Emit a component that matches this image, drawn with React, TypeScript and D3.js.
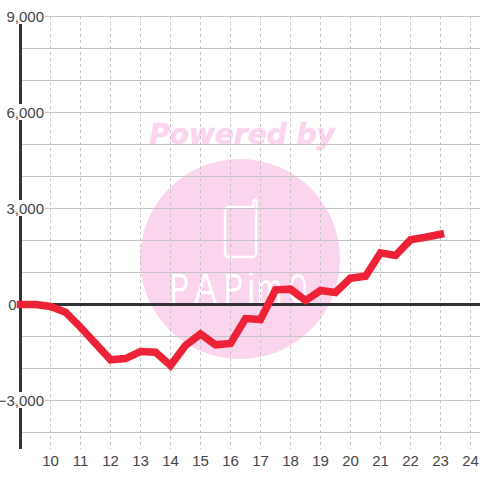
import React from "react";
import { scaleLinear, line, curveLinear, format } from "d3";

// hours along the bottom
const hourTicks = [10, 11, 12, 13, 14, 15, 16, 17, 18, 19, 20, 21, 22, 23, 24];
const valueLabels = [9000, 6000, 3000, 0, -3000];
const gridValues = [9000, 8000, 7000, 6000, 5000, 4000, 3000, 2000, 1000, 0, -1000, -2000, -3000, -4000];

// half hour samples
const times = [
  9, 9.5, 10, 10.5, 11, 11.5, 12, 12.5, 13, 13.5, 14, 14.5, 15, 15.5, 16, 16.5,
  17, 17.5, 18, 18.5, 19, 19.5, 20, 20.5, 21, 21.5, 22, 22.5, 23,
];
const values = [
  0, 0, -60, -240, -710, -1220, -1730, -1690, -1470, -1490, -1906, -1280, -920, -1260, -1220, -440,
  -470, 460, 480, 125, 437, 375, 823, 885, 1615, 1530, 2020, 2100, 2195,
];

// logo letters: [char, left edge, horizontal squeeze]
const logoLetters: [string, number, number][] = [
  ["P", 170, 0.68],
  ["A", 194, 0.82],
  ["P", 224, 0.68],
  ["i", 247, 0.9],
  ["m", 257, 0.72],
  ["O", 289, 0.55],
];

const x = scaleLinear().domain([9, 24]).range([20.5, 470.5]);
const y = scaleLinear().domain([9000, -3000]).range([16.5, 400.5]);
const fmt = format(",");

const lineGen = line<number>()
  .x((_, i) => x(times[i]))
  .y((d) => y(d))
  .curve(curveLinear);

const App = () => {
  return (
    <svg
      width={480}
      height={480}
      style={{ position: "absolute", left: 0, top: 0, background: "#fff" }}
      fontFamily="'Liberation Sans', Arial, sans-serif"
    >
      {/* watermark */}
      <g>
        <text
          x={242}
          y={144}
          textAnchor="middle"
          fontFamily="'DejaVu Sans', sans-serif"
          fontWeight="bold"
          fontStyle="italic"
          fontSize={28}
          fill="#fbd5ee"
          stroke="#fbd5ee"
          strokeWidth={0.6}
        >
          Powered by
        </text>
        <circle cx={240} cy={259} r={100} fill="#fbd5ee" />
        <rect x={225} y={207} width={31} height={50} rx={4} fill="none" stroke="#fff" strokeWidth={2.5} />
        <line x1={255} y1={207} x2={255} y2={201} stroke="#fff" strokeWidth={5} strokeLinecap="round" />
        <line x1={255} y1={215} x2={255} y2={201} stroke="#fbd5ee" strokeWidth={1} strokeLinecap="round" />
        {logoLetters.map(([c, lx, sx], i) => (
          <text key={i} transform={`translate(${lx},303) scale(${sx},1)`} fontSize={42} fill="#fff">
            {c}
          </text>
        ))}
      </g>

      {/* grid */}
      {hourTicks.map((h) => (
        <line key={h} x1={x(h)} x2={x(h)} y1={16} y2={449} stroke="#c4c4c4" strokeDasharray="3 3" />
      ))}
      {gridValues.map((v) => (
        <line key={v} x1={20} x2={480} y1={y(v)} y2={y(v)} stroke="#c4c4c4" />
      ))}

      {/* axes */}
      <line x1={20.5} x2={20.5} y1={16} y2={449} stroke="#333" strokeWidth={3} />
      <line x1={20} x2={480} y1={y(0)} y2={y(0)} stroke="#333" strokeWidth={3} />

      {/* value labels sit on a white box, the zero one stays left of the axis */}
      {valueLabels.map((v) => (
        <g key={v}>
          {v !== 0 && <rect x={0} y={y(v) - 8.5} width={45} height={16} fill="#fff" />}
          <text x={v === 0 ? 16.5 : 44} y={y(v) + 5} textAnchor="end" fontSize={15} fill="#444">
            {fmt(v)}
          </text>
        </g>
      ))}
      {hourTicks.map((h) => (
        <text key={h} x={x(h)} y={466} textAnchor="middle" fontSize={15} fill="#444">
          {h}
        </text>
      ))}

      <path
        d={lineGen(values) ?? ""}
        fill="none"
        stroke="#ee2236"
        strokeWidth={7.5}
        strokeLinejoin="miter"
        strokeLinecap="square"
      />
    </svg>
  );
};

export default App;
